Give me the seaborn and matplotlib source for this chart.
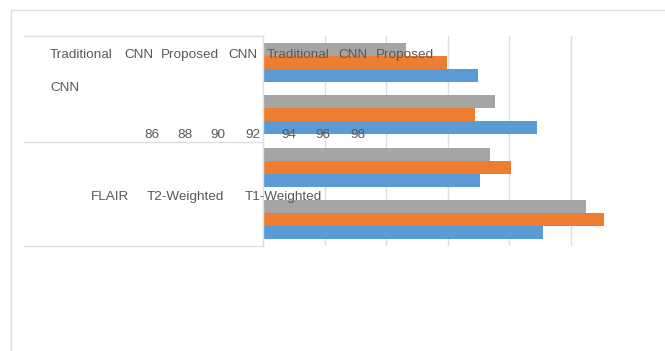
import matplotlib
matplotlib.use("Agg")
import matplotlib.pyplot as plt
import seaborn as sns
import pandas as pd
from matplotlib.lines import Line2D

# ---- data ----
groups = ["Group 1", "Group 2", "Group 3", "Group 4"]
series_order = ["Series 3", "Series 2", "Series 1"]  # drawn top-to-bottom in each group
series1_blue = [92.98, 94.90, 93.06, 95.10]
series2_orange = [91.97, 92.90, 94.06, 97.09]
series3_gray = [90.64, 93.53, 93.38, 96.49]
axis_numbers = ["86", "88", "90", "92", "94", "96", "98"]
legend_words = ["Traditional", "CNN", "Proposed", "CNN", "Traditional", "CNN", "Proposed"]
legend_wrap = "CNN"
category_labels = ["FLAIR", "T2-Weighted", "T1-Weighted"]

rows = []
for name, vals in zip(["Series 1", "Series 2", "Series 3"],
                      [series1_blue, series2_orange, series3_gray]):
    for g, v in zip(groups, vals):
        rows.append({"group": g, "series": name, "value": v})
df = pd.DataFrame(rows)

W, H = 665, 351
fig = plt.figure(figsize=(W / 100, H / 100), dpi=100)
fig.patch.set_facecolor("white")

def fx(x):
    return x / W

def fy(y):
    return 1 - y / H

LINE = "#D9DEE7"
TXT = "#595959"

ax = fig.add_axes([fx(263), fy(246), fx(632) - fx(263), fy(36) - fy(246)])
sns.barplot(data=df, y="group", x="value", hue="series", hue_order=series_order,
            order=groups, palette=["#A5A5A5", "#ED7D31", "#5B9BD5"], orient="h",
            width=0.75, saturation=1, legend=False, ax=ax, zorder=2)
ax.set_xlim(86, 98)
ax.set_xticks([88, 90, 92, 94, 96])
ax.grid(axis="x", color=LINE, linewidth=1, zorder=0)
ax.set_axisbelow(True)
ax.tick_params(left=False, bottom=False, labelleft=False, labelbottom=False)
ax.set_xlabel("")
ax.set_ylabel("")
for s in ["top", "right", "bottom"]:
    ax.spines[s].set_visible(False)
ax.spines["left"].set_color(LINE)
ax.spines["left"].set_linewidth(1)
ax.set_facecolor("none")

# outer border and left box lines
def fline(x0, y0, x1, y1):
    fig.add_artist(Line2D([fx(x0), fx(x1)], [fy(y0), fy(y1)], transform=fig.transFigure,
                          color=LINE, linewidth=1))

fline(11, 10, 665, 10)
fline(11, 10, 11, 351)
fline(24, 36, 263, 36)
fline(24, 142, 263, 142)
fline(24, 246, 263, 246)

font = dict(family=["Liberation Sans", "DejaVu Sans"], fontsize=9.7, color=TXT, va="baseline", ha="left")

for word, x in zip(legend_words, [50, 124, 161, 228.3, 266.7, 338, 375.7]):
    fig.text(fx(x), fy(58.3), word, **font)
fig.text(fx(50), fy(90.7), legend_wrap, **font)
for num, x in zip(axis_numbers, [144, 177, 210, 245, 281.7, 315.7, 350]):
    fig.text(fx(x), fy(138.3), num, **font)
for lab, x in zip(category_labels, [90.7, 146.7, 245]):
    fig.text(fx(x), fy(200), lab, **font)

fig.savefig("out.png", dpi=100, facecolor="white")
